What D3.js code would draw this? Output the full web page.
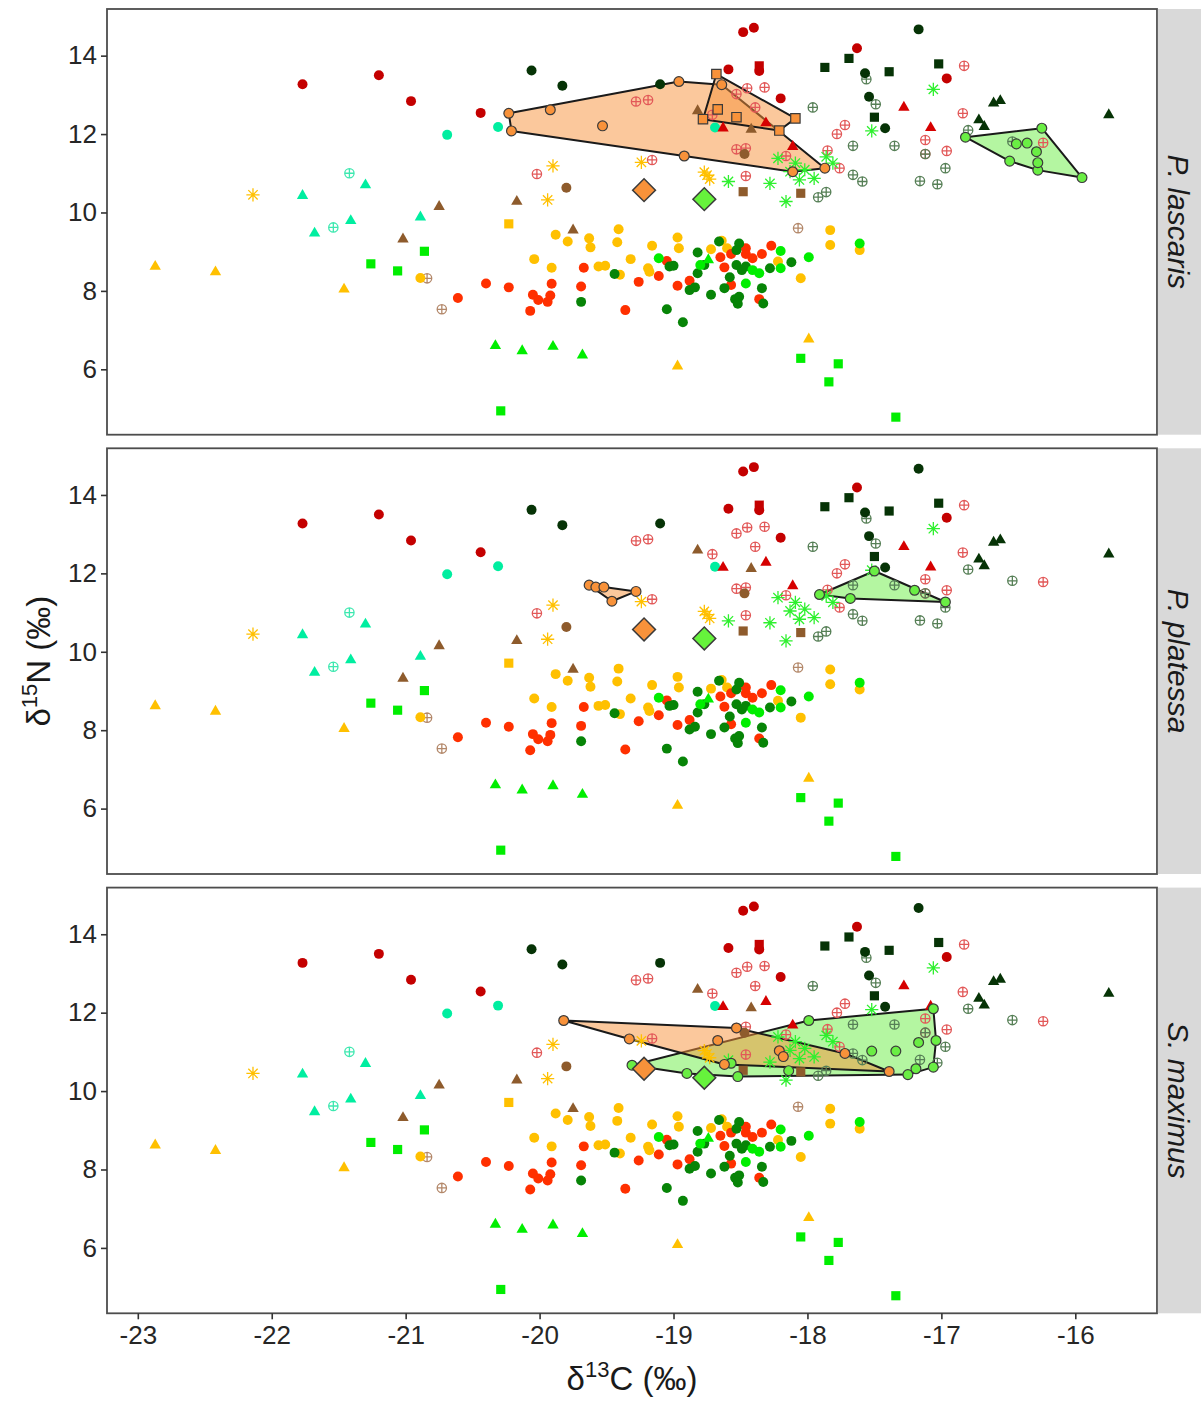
<!DOCTYPE html>
<html lang="en">
<head>
<meta charset="UTF-8">
<title>Isotopic niches</title>
<script src="https://d3js.org/d3.v7.min.js"></script>
<style>
  body { margin: 0; background: #fff; font-family: 'Liberation Sans', Arial, sans-serif; }
  svg { display: block; }
  .tick text { fill: #262626; font-size: 26px; font-family: 'Liberation Sans', Arial, sans-serif; }
  .tick line { stroke: #333; stroke-width: 1.6; }
</style>
</head>
<body>
<script>
// ---- prey sources (same in every panel), [d13C, d15N] ----
const darkRedCircles = [[-21.77,13.27],[-21.20,13.50],[-20.96,12.84],[-20.44,12.54],[-18.48,14.60],[-18.40,14.71],
  [-18.59,13.65],[-18.36,13.61],[-18.20,12.91],[-17.63,14.19],[-16.96,13.42]];
const darkRedSquares = [[-18.36,13.74]];
const redTriangles = [[-18.63,12.15],[-18.31,12.28],[-18.11,11.68],[-17.28,12.68],[-17.08,12.16]];
const redCrossed = [[-19.28,12.83],[-19.19,12.87],[-18.45,13.17],[-18.32,13.19],[-18.53,13.02],[-18.39,12.68],
  [-18.71,12.49],[-18.53,11.61],[-18.46,11.64],[-19.16,11.34],[-20.02,10.98],[-18.46,10.93],[-17.78,12.00],
  [-17.85,11.58],[-16.83,13.74],[-16.84,12.53],[-17.12,11.85],[-16.96,11.57],[-17.72,12.23],[-17.76,11.13],
  [-18.16,11.44],[-16.24,11.78],[-17.12,11.49]];
const orangeRedCircles = [[-20.40,8.19],[-20.61,7.82],[-20.23,8.09],[-20.05,7.90],[-20.01,7.77],[-19.94,7.72],
  [-19.92,7.88],[-19.91,8.18],[-20.07,7.49],[-19.67,8.59],[-19.69,8.11],[-19.36,7.51],[-19.26,8.23],[-19.11,8.38],
  [-19.05,8.76],[-18.97,8.13],[-18.88,8.26],[-18.65,8.86],[-18.62,8.60],[-18.57,8.94],[-18.46,9.09],[-18.46,8.94],
  [-18.41,8.83],[-18.34,8.94],[-18.27,9.15],[-18.57,8.15],[-18.36,7.79]];
const goldCircles = [[-20.89,8.33],[-19.88,9.43],[-19.79,9.26],[-19.63,9.34],[-19.62,9.11],[-19.41,9.57],
  [-19.42,9.24],[-19.16,9.15],[-18.97,9.36],[-18.96,9.09],[-20.04,8.81],[-19.91,8.59],[-19.56,8.62],[-19.51,8.64],
  [-19.32,8.81],[-19.19,8.58],[-19.18,8.49],[-19.40,8.41],[-17.83,9.55],[-17.83,9.17],[-17.61,9.04],[-18.05,8.32],
  [-18.22,8.75],[-18.72,9.06],[-18.64,9.28],[-18.60,9.09]];
const goldTriangles = [[-22.87,8.62],[-22.42,8.48],[-21.46,8.04],[-18.97,6.08],[-17.99,6.77]];
const goldSquares = [[-20.23,9.71]];
const goldStars = [[-22.14,10.45],[-19.90,11.19],[-19.24,11.28],[-18.77,11.03],[-18.73,10.85],[-18.75,10.95],[-19.94,10.32]];
const tealCircles = [[-20.69,11.98],[-20.31,12.18],[-18.69,12.17]];
const tealTriangles = [[-21.77,10.43],[-21.30,10.70],[-21.41,9.79],[-21.68,9.47],[-20.89,9.88]];
const tealCrossed = [[-21.42,11.00],[-21.54,9.62]];
const brownCircles = [[-18.47,11.49],[-19.80,10.63]];
const brownTriangles = [[-20.75,10.15],[-21.02,9.32],[-18.82,12.59],[-18.42,12.12],[-20.17,10.28],[-19.75,9.55]];
const brownSquares = [[-18.48,10.53],[-18.05,10.49]];
const brownCrossed = [[-20.84,8.32],[-20.73,7.53],[-18.07,9.60]];
const greenCircles = [[-19.11,8.83],[-18.20,9.02],[-18.20,8.58],[-17.99,8.86],[-17.61,9.21],[-18.46,8.19],
  [-18.36,8.45],[-18.41,8.53],[-18.80,8.66]];
const greenTriangles = [[-18.74,8.79],[-20.33,6.60],[-20.13,6.47],[-19.90,6.58],[-19.68,6.36]];
const greenSquares = [[-20.86,9.01],[-21.26,8.69],[-21.06,8.51],[-18.05,6.28],[-17.77,6.14],[-17.84,5.68],
  [-20.29,4.94],[-17.34,4.78]];
const greenStars = [[-18.22,11.38],[-18.28,10.74],[-18.16,10.28],[-18.59,10.79],[-18.09,11.26],[-18.06,10.83],
  [-17.95,10.87],[-17.86,11.42],[-17.81,11.26],[-17.06,13.14],[-17.52,12.08],[-18.02,11.09],[-18.13,11.04]];
const forestCircles = [[-18.82,8.98],[-18.66,9.26],[-18.51,9.21],[-18.53,9.04],[-19.44,8.43],[-19.69,7.72],
  [-19.03,8.62],[-19.00,8.64],[-18.77,8.66],[-18.82,8.45],[-18.88,8.02],[-18.84,8.09],[-18.72,7.90],[-18.62,8.07],
  [-18.58,8.35],[-18.54,7.79],[-18.51,7.85],[-18.52,7.67],[-18.53,8.66],[-18.49,8.53],[-18.46,8.62],[-18.34,8.07],
  [-18.33,7.68],[-18.28,8.58],[-18.12,8.73],[-19.05,7.53],[-18.93,7.20]];
const blackGreenCircles = [[-20.06,13.62],[-19.83,13.23],[-19.10,13.27],[-17.17,14.67],[-17.57,13.55],
  [-17.54,12.95],[-17.42,12.15]];
const blackGreenSquares = [[-17.87,13.70],[-17.69,13.93],[-17.39,13.59],[-17.02,13.79],[-17.50,12.43]];
const blackGreenTriangles = [[-16.61,12.79],[-16.56,12.85],[-16.72,12.36],[-16.68,12.19],[-15.75,12.49]];
const greyGreenCrossed = [[-17.96,12.68],[-17.56,13.40],[-17.49,12.76],[-17.66,11.70],[-17.35,11.70],
  [-17.66,10.96],[-17.59,10.79],[-17.16,10.80],[-17.03,10.72],[-16.97,11.13],[-17.12,11.49],[-16.80,12.10],
  [-16.47,11.81],[-17.92,10.39],[-17.86,10.52]];

// ---- fish, one facet each ----
const panels = ["P. lascaris", "P. platessa", "S. maximus"];
const lascarisOrangeA = [[-20.23,12.53],[-20.21,12.08],[-19.92,12.62],[-19.53,12.21],[-18.96,13.34],[-18.92,11.44],
  [-18.64,13.26],[-17.87,11.13],[-18.11,11.04]];
const lascarisOrangeB = [[-18.68,13.53],[-18.67,12.63],[-18.78,12.38],[-18.53,12.43],[-18.09,12.40],[-18.21,12.09]];
const lascarisGreen = [[-16.82,11.92],[-16.25,12.15],[-15.95,10.89],[-16.28,11.08],[-16.49,11.31],[-16.44,11.75],
  [-16.36,11.77],[-16.29,11.55],[-16.28,11.27]];
const platessaOrange = [[-19.63,11.70],[-19.58,11.65],[-19.52,11.65],[-19.28,11.54],[-19.46,11.29]];
const platessaGreen = [[-17.91,11.46],[-17.50,12.06],[-17.20,11.57],[-16.97,11.27],[-17.68,11.36]];
const maximusOrange = [[-19.82,11.80],[-19.33,11.33],[-18.67,11.29],[-18.53,11.61],[-18.62,10.68],[-18.21,11.03],
  [-18.18,10.88],[-17.72,10.96],[-17.39,10.50]];
const maximusGreen = [[-19.31,10.66],[-17.99,11.80],[-17.06,12.10],[-17.04,11.29],[-17.06,10.61],[-17.25,10.42],
  [-18.52,10.37],[-18.90,10.45],[-17.52,11.02],[-17.34,11.02],[-17.17,11.24],[-18.14,10.52],[-18.57,10.71],[-17.19,10.57]];
const meanOrange = [-19.22, 10.57];
const meanGreen = [-18.77, 10.34];

const xTicks = [-23, -22, -21, -20, -19, -18, -17, -16];
const yTicks = [6, 8, 10, 12, 14];

// ---- symbols ----
const symCrossed = {
  draw(ctx, size) {
    const r = Math.sqrt(size / Math.PI);
    ctx.moveTo(r, 0); ctx.arc(0, 0, r, 0, 2 * Math.PI);
    ctx.moveTo(-r, 0); ctx.lineTo(r, 0);
    ctx.moveTo(0, -r); ctx.lineTo(0, r);
  }
};
const symStar = {
  draw(ctx, size) {
    const r = Math.sqrt(size) / 2;
    for (let k = 0; k < 4; k++) {
      const a = k * Math.PI / 4;
      ctx.moveTo(-r * Math.cos(a), -r * Math.sin(a));
      ctx.lineTo(r * Math.cos(a), r * Math.sin(a));
    }
  }
};

// style table built on the arrays
const prey = [
  { pts: tealCrossed, type: symCrossed, size: 68, stroke: "#3ee8b0" },
  { pts: brownCrossed, type: symCrossed, size: 68, stroke: "#b3886a" },
  { pts: redCrossed, type: symCrossed, size: 68, stroke: "#e25858" },
  { pts: greyGreenCrossed, type: symCrossed, size: 68, stroke: "#567f56" },
  { pts: goldStars, type: symStar, size: 175, stroke: "#ffc000" },
  { pts: greenStars, type: symStar, size: 175, stroke: "#2ef02e" },
  { pts: goldCircles, type: d3.symbolCircle, size: 78, fill: "#ffc000" },
  { pts: goldTriangles, type: d3.symbolTriangle, size: 56, fill: "#ffc000" },
  { pts: goldSquares, type: d3.symbolSquare, size: 84, fill: "#ffc000" },
  { pts: orangeRedCircles, type: d3.symbolCircle, size: 78, fill: "#ff3000" },
  { pts: forestCircles, type: d3.symbolCircle, size: 78, fill: "#078407" },
  { pts: greenCircles, type: d3.symbolCircle, size: 78, fill: "#00ee00" },
  { pts: greenTriangles, type: d3.symbolTriangle, size: 56, fill: "#00ee00" },
  { pts: greenSquares, type: d3.symbolSquare, size: 84, fill: "#00ee00" },
  { pts: tealCircles, type: d3.symbolCircle, size: 78, fill: "#00eea0" },
  { pts: tealTriangles, type: d3.symbolTriangle, size: 56, fill: "#00eea0" },
  { pts: brownCircles, type: d3.symbolCircle, size: 78, fill: "#8e5b2c" },
  { pts: brownTriangles, type: d3.symbolTriangle, size: 56, fill: "#8e5b2c" },
  { pts: brownSquares, type: d3.symbolSquare, size: 84, fill: "#8e5b2c" },
  { pts: darkRedSquares, type: d3.symbolSquare, size: 84, fill: "#c40000" },
  { pts: darkRedCircles, type: d3.symbolCircle, size: 78, fill: "#c40000" },
  { pts: redTriangles, type: d3.symbolTriangle, size: 56, fill: "#d60000" },
  { pts: blackGreenCircles, type: d3.symbolCircle, size: 78, fill: "#063306" },
  { pts: blackGreenSquares, type: d3.symbolSquare, size: 84, fill: "#063306" },
  { pts: blackGreenTriangles, type: d3.symbolTriangle, size: 56, fill: "#063306" }
];

const fishOrange = "#f8923a", fishGreen = "#6aee44";
const fish = [
  [ { pts: lascarisOrangeA, col: fishOrange, type: d3.symbolCircle },
    { pts: lascarisOrangeB, col: fishOrange, type: d3.symbolSquare },
    { pts: lascarisGreen, col: fishGreen, type: d3.symbolCircle } ],
  [ { pts: platessaGreen, col: fishGreen, type: d3.symbolCircle },
    { pts: platessaOrange, col: fishOrange, type: d3.symbolCircle } ],
  [ { pts: maximusGreen, col: fishGreen, type: d3.symbolCircle },
    { pts: maximusOrange, col: fishOrange, type: d3.symbolCircle } ]
];

// ---- layout ----
const W = 1201, H = 1404;
const left = 107, right = 1157, stripW = 44;
const panelTops = [9, 448.3, 887.6], panelH = 425.7;

const svg = d3.select("body").append("svg").attr("width", W).attr("height", H);

const x = d3.scaleLinear().domain([-23.23, -15.39]).range([left, right]);

panels.forEach((name, i) => {
  const top = panelTops[i];
  const y = d3.scaleLinear().domain([4.332, 15.19]).range([top + panelH, top]);
  const g = svg.append("g");

  g.append("rect").attr("x", left).attr("y", top).attr("width", right - left).attr("height", panelH)
    .attr("fill", "#fff");

  // hulls
  fish[i].forEach(s => {
    const hull = d3.polygonHull(s.pts.map(d => [x(d[0]), y(d[1])]));
    g.append("path").attr("d", "M" + hull.join("L") + "Z")
      .attr("fill", s.col).attr("fill-opacity", 0.5)
      .attr("stroke", "#1a1a1a").attr("stroke-width", 2).attr("stroke-linejoin", "round");
  });

  // prey
  prey.forEach(s => {
    g.selectAll(null).data(s.pts).enter().append("path")
      .attr("transform", d => `translate(${x(d[0])},${y(d[1])})`)
      .attr("d", d3.symbol().type(s.type).size(s.size))
      .attr("fill", s.fill || "none")
      .attr("stroke", s.stroke || "none")
      .attr("stroke-width", s.stroke ? 1.3 : 0);
  });

  // fish points
  fish[i].forEach(s => {
    g.selectAll(null).data(s.pts).enter().append("path")
      .attr("transform", d => `translate(${x(d[0])},${y(d[1])})`)
      .attr("d", d3.symbol().type(s.type).size(s.type === d3.symbolSquare ? 88 : 76))
      .attr("fill", s.col).attr("stroke", "#3a3a3a").attr("stroke-width", 1.2);
  });

  // means
  [[meanOrange, fishOrange], [meanGreen, "#66f23c"]].forEach(([m, c]) => {
    g.append("path")
      .attr("transform", `translate(${x(m[0])},${y(m[1])}) rotate(45)`)
      .attr("d", d3.symbol().type(d3.symbolSquare).size(260))
      .attr("fill", c).attr("stroke", "#3a3a3a").attr("stroke-width", 1.5);
  });

  // frame
  g.append("rect").attr("x", left).attr("y", top).attr("width", right - left).attr("height", panelH)
    .attr("fill", "none").attr("stroke", "#4d4d4d").attr("stroke-width", 1.8);

  // strip
  g.append("rect").attr("x", right + 0.9).attr("y", top).attr("width", stripW).attr("height", panelH)
    .attr("fill", "#d9d9d9");
  g.append("text")
    .attr("transform", `translate(${right + 11},${top + panelH / 2}) rotate(90)`)
    .attr("text-anchor", "middle")
    .attr("font-size", 30).attr("font-style", "italic").attr("fill", "#1a1a1a")
    .text(name);

  // y axis
  const ya = g.append("g").attr("transform", `translate(${left},0)`)
    .call(d3.axisLeft(y).tickValues(yTicks).tickSize(6).tickPadding(4).tickFormat(d => String(d)));
  ya.select(".domain").remove();

  if (i === panels.length - 1) {
    const xa = g.append("g").attr("transform", `translate(0,${top + panelH})`)
      .call(d3.axisBottom(x).tickValues(xTicks).tickSize(6).tickPadding(6).tickFormat(d => String(d)));
    xa.select(".domain").remove();
  }
});

// axis titles
const xt = svg.append("text").attr("x", (left + right) / 2).attr("y", 1390)
  .attr("text-anchor", "middle").attr("font-size", 33).attr("fill", "#1a1a1a");
xt.append("tspan").text("δ");
xt.append("tspan").attr("font-size", 22).attr("dy", -13).text("13");
xt.append("tspan").attr("dy", 13).text("C (‰)");

const yt = svg.append("text")
  .attr("transform", `translate(50,${panelTops[1] + panelH / 2}) rotate(-90)`)
  .attr("text-anchor", "middle").attr("font-size", 33).attr("fill", "#1a1a1a");
yt.append("tspan").text("δ");
yt.append("tspan").attr("font-size", 22).attr("dy", -13).text("15");
yt.append("tspan").attr("dy", 13).text("N (‰)");
</script>
</body>
</html>
